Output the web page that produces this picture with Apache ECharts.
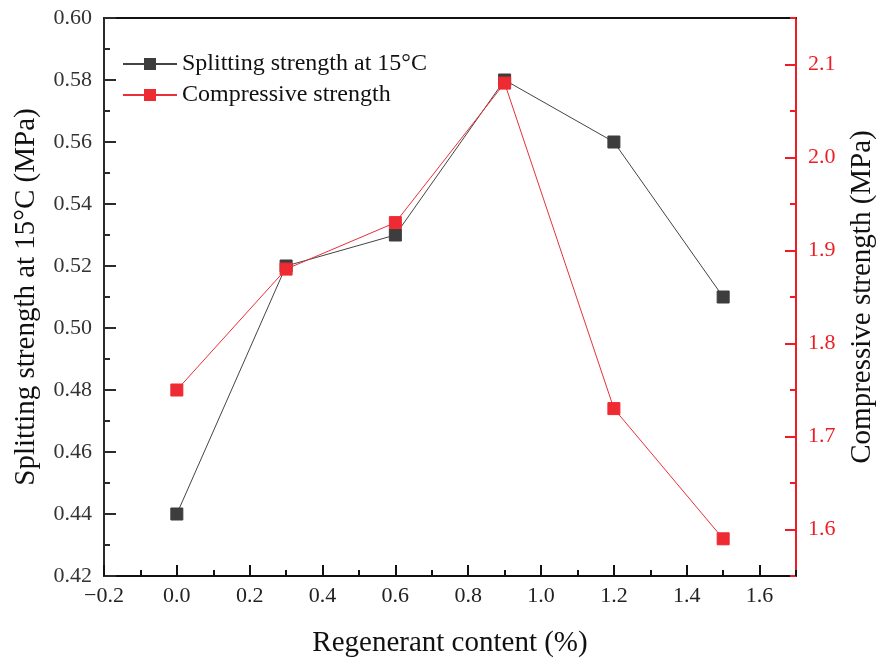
<!DOCTYPE html>
<html>
<head>
<meta charset="utf-8">
<script src="https://cdn.jsdelivr.net/npm/echarts@6/dist/echarts.min.js"></script>
<style>
  html, body { margin: 0; padding: 0; background: #fff; }
  #chart { width: 876px; height: 659px; }
</style>
</head>
<body>
<div id="chart"></div>
<script>
// regenerant content (%)
const contents = [0, 0.3, 0.6, 0.9, 1.2, 1.5]
// splitting strength at 15°C (MPa), left axis
const splittingStrength = [0.44, 0.52, 0.53, 0.58, 0.56, 0.51]
// compressive strength (MPa), right axis
const compressiveStrength = [1.75, 1.88, 1.93, 2.08, 1.73, 1.59]

const xRange = [-0.2, 1.7]
const leftRange = [0.42, 0.60]
const rightRange = [1.55, 2.15]
const rightLabelRange = [1.6, 2.1]

const FONT = '"Times New Roman", "Liberation Serif", serif'
const BLACK = '#2b2b2b'
const RED = '#ee1d25'

// plot area
const G = { left: 104, right: 80, top: 18, bottom: 83 }
const plotH = 659 - G.top - G.bottom
const pxPerUnit = plotH / (rightRange[1] - rightRange[0])
// second grid only carries the labelled right-hand ticks (1.6 .. 2.1)
const G2 = {
  left: G.left,
  right: G.right,
  top: G.top + (rightRange[1] - rightLabelRange[1]) * pxPerUnit,
  bottom: G.bottom + (rightLabelRange[0] - rightRange[0]) * pxPerUnit,
}

const chart = echarts.init(document.getElementById('chart'), null, { renderer: 'canvas' })

chart.setOption({
  animation: false,
  backgroundColor: '#fff',
  textStyle: { fontFamily: FONT },
  grid: [
    { ...G, containLabel: false, outerBoundsMode: 'none' },
    { ...G2, containLabel: false, outerBoundsMode: 'none' },
  ],
  legend: {
    orient: 'vertical',
    left: 117,
    top: 47,
    itemWidth: 54,
    itemHeight: 15,
    itemGap: 7,
    textStyle: { fontFamily: FONT, fontSize: 24, color: '#111' },
    data: ['Splitting strength at 15°C', 'Compressive strength'],
  },
  xAxis: [
    {
      gridIndex: 0,
      type: 'value',
      position: 'bottom',
      min: xRange[0],
      max: xRange[1],
      interval: 0.2,
      name: 'Regenerant content (%)',
      nameLocation: 'middle',
      nameGap: 53,
      nameTextStyle: { fontFamily: FONT, fontSize: 29, color: '#111' },
      axisLine: { onZero: false, lineStyle: { color: '#111', width: 2 } },
      axisTick: { inside: true, length: 11, lineStyle: { color: '#111', width: 2 } },
      axisLabel: {
        margin: 9,
        fontFamily: FONT,
        fontSize: 22,
        color: '#222',
        showMaxLabel: false,
        formatter: v => (v < 0 ? '\u2212' : '') + Math.abs(v).toFixed(1),
      },
      splitLine: { show: false },
    },
    {
      gridIndex: 0,
      type: 'value',
      position: 'bottom',
      min: xRange[0],
      max: xRange[1],
      interval: 0.1,
      axisLine: { show: false, onZero: false },
      axisTick: { inside: true, length: 6, lineStyle: { color: '#111', width: 2 } },
      axisLabel: { show: false },
      splitLine: { show: false },
    },
    {
      gridIndex: 0,
      type: 'value',
      position: 'top',
      min: xRange[0],
      max: xRange[1],
      axisLine: { onZero: false, lineStyle: { color: '#111', width: 2 } },
      axisTick: { show: false },
      axisLabel: { show: false },
      splitLine: { show: false },
    },
    {
      gridIndex: 1,
      type: 'value',
      min: xRange[0],
      max: xRange[1],
      show: false,
    },
  ],
  yAxis: [
    {
      gridIndex: 0,
      type: 'value',
      position: 'left',
      min: leftRange[0],
      max: leftRange[1],
      interval: 0.02,
      name: 'Splitting strength at 15°C (MPa)',
      nameLocation: 'middle',
      nameGap: 63,
      nameTextStyle: { fontFamily: FONT, fontSize: 29, color: '#111' },
      axisLine: { onZero: false, lineStyle: { color: BLACK, width: 2 } },
      axisTick: { inside: true, length: 12, lineStyle: { color: BLACK, width: 2 } },
      minorTick: { show: true, splitNumber: 2, length: 6, lineStyle: { color: BLACK, width: 2 } },
      axisLabel: {
        margin: 12,
        fontFamily: FONT,
        fontSize: 22,
        color: '#333',
        formatter: v => v.toFixed(2),
      },
      splitLine: { show: false },
    },
    {
      gridIndex: 0,
      type: 'value',
      position: 'right',
      min: rightRange[0],
      max: rightRange[1],
      interval: 0.05,
      axisLine: { onZero: false, lineStyle: { color: RED, width: 2 } },
      axisTick: { inside: true, length: 6, lineStyle: { color: RED, width: 2 } },
      axisLabel: { show: false },
      splitLine: { show: false },
    },
    {
      gridIndex: 1,
      type: 'value',
      position: 'right',
      min: rightLabelRange[0],
      max: rightLabelRange[1],
      interval: 0.1,
      name: 'Compressive strength (MPa)',
      nameLocation: 'middle',
      nameGap: 52,
      nameTextStyle: { fontFamily: FONT, fontSize: 29, color: '#111' },
      axisLine: { show: false, onZero: false },
      axisTick: { inside: true, length: 11, lineStyle: { color: RED, width: 2 } },
      axisLabel: {
        margin: 12,
        fontFamily: FONT,
        fontSize: 22,
        color: RED,
        formatter: v => v.toFixed(1),
      },
      splitLine: { show: false },
    },
  ],
  series: [
    {
      name: 'Splitting strength at 15°C',
      type: 'line',
      xAxisIndex: 0,
      yAxisIndex: 0,
      data: contents.map((x, i) => [x, splittingStrength[i]]),
      symbol: 'rect',
      symbolSize: 12,
      lineStyle: { color: '#444', width: 1 },
      itemStyle: { color: '#3d3d3d', borderColor: '#3d3d3d' },
    },
    {
      name: 'Compressive strength',
      type: 'line',
      xAxisIndex: 0,
      yAxisIndex: 1,
      data: contents.map((x, i) => [x, compressiveStrength[i]]),
      symbol: 'rect',
      symbolSize: 12,
      lineStyle: { color: '#e8303a', width: 1 },
      itemStyle: { color: '#ee2a33', borderColor: '#ee2a33' },
    },
  ],
})
</script>
</body>
</html>
